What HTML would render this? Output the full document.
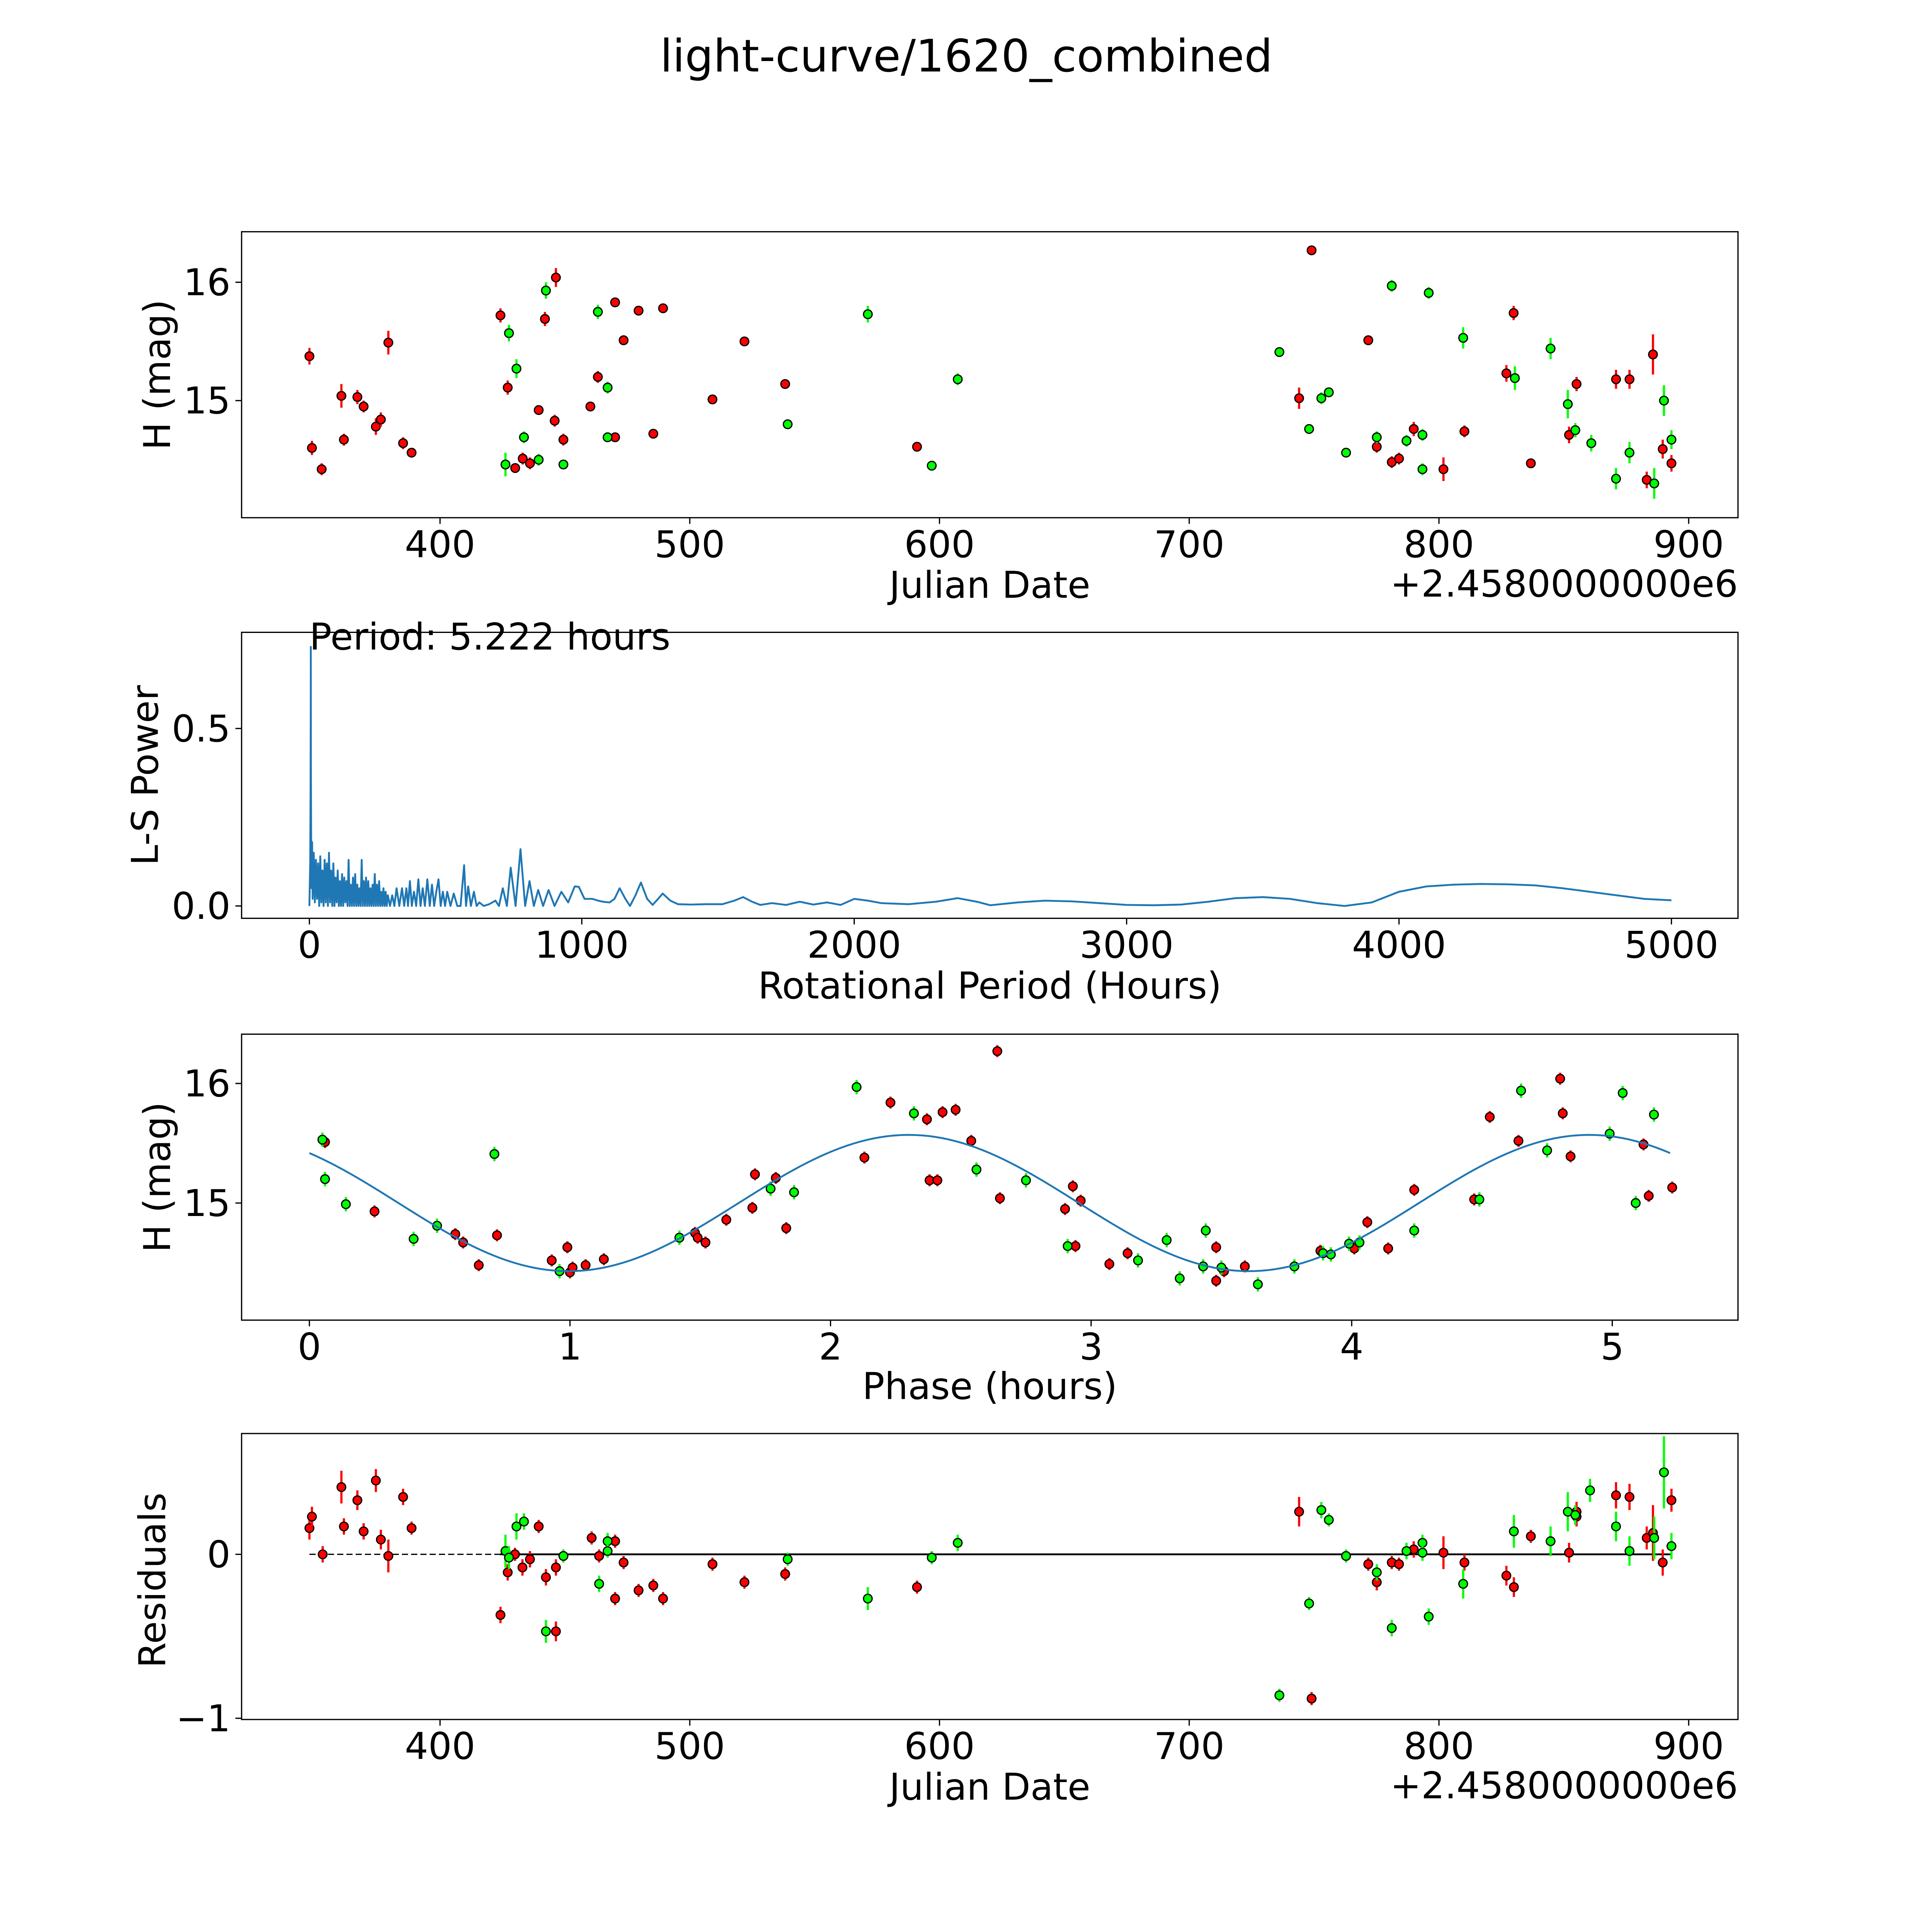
<!DOCTYPE html>
<html><head><meta charset="utf-8"><style>
html,body{margin:0;padding:0;background:#fff;overflow:hidden;}
svg{display:block;position:fixed;left:0;top:0;width:100vw;height:100vh;}
text{font-family:"DejaVu Sans","Liberation Sans",sans-serif;fill:#000;}
</style></head><body>
<svg id="fig" viewBox="0 0 1567.4 1567.4" preserveAspectRatio="none" xmlns="http://www.w3.org/2000/svg">
<rect width="1567.4" height="1567.4" fill="#fff"/>
<text x="784" y="58" font-size="36.3" text-anchor="middle">light-curve/1620_combined</text>
<g id="p1"></g>
<g id="p2"></g>
<g id="p3"></g>
<g id="p4"></g>
</svg>
<script>
// ---- light curve (Julian date offsets, magnitudes) ----
const redDates=[347.7,348.7,352.6,360.5,361.5,366.9,369.4,374.3,376.3,379.3,385.2,388.6,424.2,427.1,430.1,433.1,436.0,439.5,442.0,445.9,446.4,449.4,460.2,463.2,470.1,470.1,473.5,479.5,485.4,489.3,509.1,521.9,538.2,591.0,749.0,744.0,771.7,775.1,781.1,784.0,789.9,801.8,810.2,829.9,827.0,836.8,852.1,855.1,870.9,876.3,883.2,885.7,889.6,893.1];
const redMags=[15.375,14.60,14.42,15.04,14.67,15.03,14.95,14.78,14.84,15.49,14.64,14.56,15.72,15.11,14.43,14.51,14.47,14.92,15.69,14.83,16.04,14.67,14.95,15.20,15.83,14.69,15.51,15.76,14.72,15.78,15.01,15.50,15.14,14.61,16.27,15.02,15.51,14.61,14.48,14.51,14.76,14.42,14.74,15.74,15.23,14.47,14.71,15.14,15.18,15.18,14.33,15.39,14.59,14.47];
const redErr=[0.07,0.06,0.05,0.1,0.05,0.06,0.05,0.07,0.06,0.1,0.05,0.04,0.06,0.06,0.04,0.05,0.05,0.04,0.06,0.05,0.08,0.05,0.04,0.05,0.04,0.04,0.04,0.04,0.04,0.04,0.04,0.04,0.04,0.04,0.04,0.09,0.04,0.05,0.05,0.05,0.06,0.1,0.05,0.06,0.07,0.04,0.07,0.06,0.08,0.08,0.07,0.17,0.08,0.07];
const greenDates=[426.2,427.6,430.6,433.6,439.5,442.4,449.4,463.2,467.1,467.1,539.2,571.3,596.9,607.3,736.1,748.0,752.9,755.9,762.8,775.1,781.1,787.0,793.4,793.4,795.9,809.7,830.4,844.7,851.6,854.6,861.0,870.9,876.3,886.2,890.1,893.1];
const greenMags=[14.46,15.57,15.27,14.69,14.50,15.93,14.46,15.75,15.11,14.69,14.80,15.73,14.45,15.18,15.41,14.76,15.02,15.07,14.56,14.69,15.97,14.66,14.42,14.71,15.91,15.53,15.19,15.44,14.97,14.75,14.64,14.34,14.56,14.30,15.00,14.67];
const greenErr=[0.1,0.07,0.08,0.05,0.05,0.07,0.04,0.06,0.05,0.04,0.04,0.07,0.04,0.05,0.04,0.04,0.05,0.04,0.04,0.05,0.05,0.05,0.05,0.05,0.05,0.09,0.1,0.09,0.12,0.06,0.07,0.09,0.09,0.13,0.13,0.08];
// ---- periodogram ----
const periods=[0,3,4.2,5.0,5.222,5.5,6.5,8,10,
12,16,20,24,28,32,36,40,44,48,
52,56,60,64,68,72,76,80,84,88,
92,96,100,104,108,112,116,120,124,128,
132,136,140,144,148,152,156,160,164,168,
172,176,180,184,188,192,196,200,204,208,
212,216,220,224,228,232,236,240,244,248,
252,256,260,264,268,272,276,280,284,288,
296,304,312,320,330,340,348,356,362,369,
376,384,392,400,408,416,424,433,442,450,
458,466,474,482,490,498,506,518,530,543,
555,568,575,583,593,604,614,624,640,660,
683,696,710,725,739,757,775,792,808,824,
840,858,878,900,925,950,974,989,1010,1039,
1060,1077,1102,1120,1139,1160,1177,1197,1217,1240,
1260,1280,1297,1325,1353,1400,1454,1516,1560,1592,
1625,1655,1698,1750,1800,1850,1900,1950,2000,2050,
2100,2200,2300,2380,2450,2500,2600,2700,2800,2900,
3000,3100,3200,3300,3400,3500,3600,3700,3800,3900,
4000,4100,4200,4300,4400,4500,4600,4700,4800,4900,5000];
const powers=[0,0.12,0.3,0.55,0.73,0.4,0.19,0.05,0.18,
0.02,0.15,0.01,0.13,0.02,0.12,0.0,0.14,0.01,0.1,
0.0,0.13,0.01,0.12,0.0,0.15,0.01,0.1,0.0,0.12,
0.0,0.08,0.01,0.1,0.0,0.07,0.0,0.09,0.0,0.08,
0.01,0.07,0.0,0.13,0.0,0.06,0.0,0.08,0.0,0.09,
0.0,0.06,0.0,0.05,0.0,0.13,0.0,0.07,0.0,0.08,
0.0,0.07,0.0,0.05,0.0,0.06,0.0,0.09,0.0,0.06,
0.0,0.07,0.0,0.04,0.0,0.05,0.0,0.04,0.0,0.03,
0.0,0.03,0.0,0.05,0.0,0.05,0.0,0.05,0.0,0.07,
0.0,0.04,0.0,0.075,0.0,0.05,0.0,0.075,0.0,0.06,
0.0,0.04,0.075,0.0,0.04,0.0,0.04,0.0,0.035,0.0,
0.0,0.115,0.0,0.055,0.0,0.04,0.0,0.01,0.0,0.005,
0.015,0.0,0.05,0.0,0.108,0.0,0.16,0.0,0.07,0.0,
0.045,0.0,0.045,0.0,0.04,0.01,0.055,0.054,0.02,0.02,
0.015,0.012,0.01,0.02,0.05,0.02,0.0,0.03,0.066,0.02,
0.003,0.02,0.035,0.015,0.005,0.004,0.005,0.005,0.015,0.025,
0.012,0.003,0.008,0.003,0.012,0.004,0.01,0.003,0.02,0.015,
0.008,0.005,0.012,0.022,0.012,0.002,0.01,0.015,0.013,0.008,
0.003,0.002,0.004,0.012,0.022,0.025,0.02,0.008,0.0,0.01,
0.04,0.055,0.06,0.062,0.061,0.058,0.05,0.04,0.03,0.02,0.016];
// ---- phase-folded data ----
const redPhase=[0.06,0.25,0.56,0.59,0.65,0.72,0.93,0.99,1.00,1.01,1.06,1.13,1.42,1.48,1.49,1.52,1.60,1.70,1.71,1.79,1.83,2.13,2.23,2.37,2.38,2.41,2.43,2.48,2.54,2.64,2.65,2.90,2.93,2.94,2.96,3.07,3.14,3.48,3.48,3.51,3.59,3.88,4.01,4.06,4.14,4.24,4.47,4.53,4.64,4.81,4.80,4.84,5.12,5.14,5.23];
const redPhaseMag=[15.51,14.93,14.74,14.67,14.48,14.73,14.52,14.63,14.42,14.46,14.48,14.53,14.71,14.75,14.71,14.67,14.86,14.96,15.24,15.21,14.79,15.38,15.84,15.70,15.19,15.19,15.76,15.78,15.52,16.27,15.04,14.95,15.14,14.64,15.02,14.49,14.58,14.63,14.35,14.43,14.47,14.60,14.62,14.84,14.62,15.11,15.03,15.72,15.52,15.75,16.04,15.39,15.49,15.06,15.13];
const greenPhase=[0.05,0.06,0.14,0.40,0.49,0.71,0.96,1.42,1.77,1.86,2.10,2.32,2.56,2.75,2.91,3.18,3.29,3.34,3.43,3.44,3.50,3.64,3.78,3.89,3.92,3.99,4.03,4.24,4.49,4.65,4.75,4.99,5.04,5.09,5.16];
const greenPhaseMag=[15.53,15.20,14.99,14.70,14.81,15.41,14.43,14.71,15.12,15.09,15.97,15.75,15.28,15.19,14.64,14.52,14.69,14.37,14.47,14.77,14.46,14.32,14.47,14.58,14.57,14.66,14.67,14.77,15.03,15.94,15.44,15.58,15.92,15.00,15.74];
const modelParams=[15.0,0.57,2.3,2.611]; // mean, amplitude, peak phase, half period
// ---- residuals ----
const redResDates=[347.7,348.7,353,360.5,361.5,366.9,369.4,374.3,376.3,379.3,385.2,388.6,424.2,427.1,430,433,436,439.5,442.4,446.4,446.4,449.4,460.7,463.7,470.1,470.1,473.5,479.5,485.4,489.3,509.1,521.9,538.2,591,744,749,771.7,775.1,781.1,784,789.9,801.8,810.2,827,830,836.8,852.1,855.1,855.1,870.9,876.3,883.2,885.7,889.6,893.1];
const redRes=[0.16,0.23,0.0,0.41,0.17,0.33,0.14,0.45,0.09,-0.01,0.35,0.16,-0.37,-0.11,0.0,-0.08,-0.03,0.17,-0.14,-0.47,-0.08,-0.01,0.10,-0.01,0.08,-0.27,-0.05,-0.22,-0.19,-0.27,-0.06,-0.17,-0.12,-0.20,0.26,-0.88,-0.06,-0.17,-0.05,-0.06,0.03,0.01,-0.05,-0.13,-0.20,0.11,0.01,0.26,0.23,0.36,0.35,0.10,0.13,-0.05,0.33];
const redResErr=[0.07,0.06,0.05,0.1,0.05,0.06,0.05,0.07,0.06,0.1,0.05,0.04,0.05,0.05,0.04,0.05,0.05,0.04,0.05,0.06,0.05,0.04,0.04,0.04,0.04,0.04,0.04,0.04,0.04,0.04,0.04,0.04,0.04,0.04,0.09,0.04,0.04,0.05,0.04,0.04,0.05,0.1,0.05,0.06,0.06,0.04,0.06,0.06,0.06,0.08,0.08,0.07,0.17,0.08,0.07];
const greenResDates=[426.2,427.6,430.6,433.6,442.4,449.4,463.7,467.1,467.1,539.2,571.3,596.9,607.3,736.1,748,752.9,755.9,762.8,775.1,781.1,787,793.4,793.4,795.9,809.7,830,844.7,851.6,854.6,860.5,870.9,876.3,886.2,890.1,893.1];
const greenRes=[0.02,-0.02,0.17,0.20,-0.47,-0.01,-0.18,0.08,0.02,-0.03,-0.27,-0.02,0.07,-0.86,-0.30,0.27,0.21,-0.01,-0.11,-0.45,0.02,0.07,0.01,-0.38,-0.18,0.14,0.08,0.26,0.24,0.39,0.17,0.02,0.10,0.50,0.05];
const greenResErr=[0.1,0.07,0.08,0.05,0.07,0.04,0.05,0.05,0.04,0.04,0.07,0.04,0.05,0.04,0.04,0.05,0.04,0.04,0.05,0.05,0.05,0.05,0.05,0.05,0.09,0.1,0.09,0.12,0.06,0.07,0.09,0.09,0.13,0.22,0.08];

const NS='http://www.w3.org/2000/svg';
function mk(parent,tag,attrs){const e=document.createElementNS(NS,tag);for(const k in attrs)e.setAttribute(k,attrs[k]);parent.appendChild(e);return e;}
const FS=30;

// axis functions
const xJ=d=>357+(d-400)*2.026;
const yM1=m=>325-(m-15)*96;
const xT=h=>251+h*0.221;
const yPw=v=>735-v*288;
const xP=p=>251+p*211.4;
const yM3=m=>976-(m-15)*97;
const yR=r=>1261-r*133;

function frame(g,top,name){
  const r=mk(g,'rect',{x:196,y:top,width:1214,height:232,fill:'none',stroke:'#000','stroke-width':1});
  
  
}
function xtick(g,x,bottom,label,name){
  const l=mk(g,'line',{x1:x,y1:bottom,x2:x,y2:bottom+5,stroke:'#000','stroke-width':1});
  
  
  const t=mk(g,'text',{x:x,y:bottom+32,'font-size':FS,'text-anchor':'middle'});
  t.textContent=label;
  
  
}
function ytick(g,y,label,name){
  const l=mk(g,'line',{x1:191,y1:y,x2:196,y2:y,stroke:'#000','stroke-width':1});
  
  
  const t=mk(g,'text',{x:187,y:y+10.5,'font-size':FS,'text-anchor':'end'});
  t.textContent=label;
  
  
}
function label(g,x,y,txt,name,rot){
  const t=mk(g,'text',{x:x,y:y,'font-size':FS,'text-anchor':'middle'});
  if(rot)t.setAttribute('transform','rotate(-90 '+x+' '+y+')');
  t.textContent=txt;
  
  
}
function points(g,xs,ys,errs,fx,fy,scale,color,name){
  for(let i=0;i<xs.length;i++){
    const x=fx(xs[i]),y=fy(ys[i]),e=errs?errs[i]*scale:0;
    if(e>0){
      const l=mk(g,'line',{x1:x,y1:y-e,x2:x,y2:y+e,stroke:color,'stroke-width':1.8});
      
      
    }
    const c=mk(g,'circle',{cx:x,cy:y,r:3.5,fill:color,stroke:'#000','stroke-width':1});
    
    
  }
}
const RED='#ff0000',GRN='#00ff00',BLUE='#1f77b4';

// Panel 1
(function(){
  const g=document.getElementById('p1');
  frame(g,188,'light-curve');
  [400,500,600,700,800,900].forEach(v=>xtick(g,xJ(v),420,String(v),'light-curve'));
  [15,16].forEach(v=>ytick(g,yM1(v),String(v),'light-curve'));
  label(g,803,485,'Julian Date','light-curve-x-axis-title');
  label(g,138,304,'H (mag)','light-curve-y-axis-title',true);
  const o=mk(g,'text',{x:1410,y:484,'font-size':FS,'text-anchor':'end'});o.textContent='+2.4580000000e6';
  
  
  points(g,redDates,redMags,redErr,xJ,yM1,96,RED,'red-observation');
  points(g,greenDates,greenMags,greenErr,xJ,yM1,96,GRN,'green-observation');
})();

// Panel 2
(function(){
  const g=document.getElementById('p2');
  frame(g,513,'periodogram');
  [0,1000,2000,3000,4000,5000].forEach(v=>xtick(g,xT(v),745,String(v),'periodogram'));
  [[0,'0.0'],[0.5,'0.5']].forEach(v=>ytick(g,yPw(v[0]),v[1],'periodogram'));
  label(g,803,810,'Rotational Period (Hours)','periodogram-x-axis-title');
  label(g,128,629,'L-S Power','periodogram-y-axis-title',true);
  let d='';
  for(let i=0;i<periods.length;i++)d+=(i?'L':'M')+xT(periods[i]).toFixed(2)+' '+yPw(powers[i]).toFixed(2);
  const p=mk(g,'path',{d:d,fill:'none',stroke:BLUE,'stroke-width':1.5,'stroke-linejoin':'round'});
  
  
  const t=mk(g,'text',{x:251,y:527,'font-size':FS});t.textContent='Period: 5.222 hours';
  
  
})();

// Panel 3
(function(){
  const g=document.getElementById('p3');
  frame(g,839,'phase');
  [0,1,2,3,4,5].forEach(v=>xtick(g,xP(v),1071,String(v),'phase'));
  [15,16].forEach(v=>ytick(g,yM3(v),String(v),'phase'));
  label(g,803,1135,'Phase (hours)','phase-x-axis-title');
  label(g,138,955,'H (mag)','phase-y-axis-title',true);
  points(g,redPhase,redPhaseMag,redPhase.map(()=>0.05),xP,yM3,97,RED,'red-phase');
  points(g,greenPhase,greenPhaseMag,greenPhase.map(()=>0.06),xP,yM3,97,GRN,'green-phase');
  let d='';
  for(let i=0;i<=200;i++){const ph=5.222*i/200;const m=modelParams[0]+modelParams[1]*Math.cos(2*Math.PI*(ph-modelParams[2])/modelParams[3]);d+=(i?'L':'M')+xP(ph).toFixed(2)+' '+yM3(m).toFixed(2);}
  const p=mk(g,'path',{d:d,fill:'none',stroke:BLUE,'stroke-width':1.5});
  
  
})();

// Panel 4
(function(){
  const g=document.getElementById('p4');
  frame(g,1163,'residuals');
  [400,500,600,700,800,900].forEach(v=>xtick(g,xJ(v),1395,String(v),'residuals'));
  [[0,'0'],[-1,'\u22121']].forEach(v=>ytick(g,yR(v[0]),v[1],'residuals'));
  label(g,803,1460,'Julian Date','residuals-x-axis-title');
  label(g,134,1282,'Residuals','residuals-y-axis-title',true);
  const o=mk(g,'text',{x:1410,y:1459,'font-size':FS,'text-anchor':'end'});o.textContent='+2.4580000000e6';
  
  
  const l1=mk(g,'line',{x1:xJ(347.7),y1:yR(0),x2:xJ(424),y2:yR(0),stroke:'#000','stroke-width':1,'stroke-dasharray':'5 2.5'});
  
  
  const l2=mk(g,'line',{x1:xJ(424),y1:yR(0),x2:xJ(893.1),y2:yR(0),stroke:'#000','stroke-width':1.5});
  
  
  points(g,redResDates,redRes,redResErr,xJ,yR,133,RED,'red-residual');
  points(g,greenResDates,greenRes,greenResErr,xJ,yR,133,GRN,'green-residual');
})();
</script>
</body></html>
